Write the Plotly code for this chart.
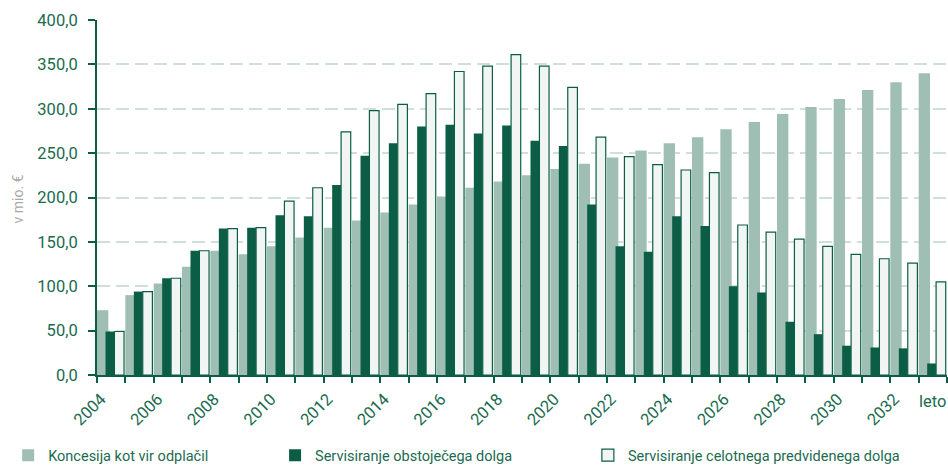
import plotly.graph_objects as go

years = list(range(2004, 2034))
koncesija = [73, 90, 103, 122, 140, 136, 145, 155, 166, 174, 183, 192, 201, 211, 218, 225,
             232, 238, 245, 253, 261, 268, 277, 285, 294, 302, 311, 321, 330, 340]
obstojeci = [49, 94, 109, 140, 165, 166, 180, 179, 214, 247, 261, 280, 282, 272, 281, 264,
             258, 192, 145, 139, 179, 168, 100, 93, 60, 46, 33, 31, 30, 13]
celotni = [49, 94, 109, 140, 165, 166, 196, 211, 274, 298, 305, 317, 342, 348, 361, 348,
           324, 268, 246, 237, 231, 228, 169, 161, 153, 145, 136, 131, 126, 105]
series_names = ["Koncesija kot vir odplačil", "Servisiranje obstoječega dolga",
                "Servisiranje celotnega predvidenega dolga"]
tick_years = list(range(2004, 2035))
tick_labels = [str(y) if (y % 2 == 0 and y <= 2032) else "" for y in tick_years]
last_label = "leto"
y_title = "v mio. €"

GREEN = "#0b5e45"
TXT = "#1b6b50"
LIGHT = "#9fbfb5"
WHITE = "#f1f6f4"

fig = go.Figure()
fig.add_trace(go.Bar(x=years, y=koncesija, name=series_names[0], offset=0.0, width=0.40,
                     marker=dict(color=LIGHT, line=dict(width=0)), legend="legend"))
fig.add_trace(go.Bar(x=years, y=obstojeci, name=series_names[1], offset=0.30, width=0.31,
                     marker=dict(color=GREEN, line=dict(width=0)), legend="legend2"))
fig.add_trace(go.Bar(x=years, y=celotni, name=series_names[2], offset=0.615, width=0.34,
                     marker=dict(color=WHITE, line=dict(color=GREEN, width=1.2)), legend="legend3"))

legend_font = dict(family="Roboto, sans-serif", size=14.5, color=TXT)
common_leg = dict(orientation="h", yanchor="middle", xanchor="left", font=legend_font,
                  bgcolor="rgba(0,0,0,0)", borderwidth=0)

fig.update_layout(
    width=948, height=465,
    margin=dict(l=97, r=1, t=20, b=90, autoexpand=False),
    plot_bgcolor="white", paper_bgcolor="white",
    barmode="overlay",
    separators=",.",
    showlegend=True,
    legend=dict(x=-0.1045, y=-0.226, **common_leg),
    legend2=dict(x=0.2095, y=-0.226, **common_leg),
    legend3=dict(x=0.5775, y=-0.226, **common_leg),
    font=dict(family="Roboto, sans-serif", size=16.5, color=TXT),
)
fig.update_xaxes(range=[2004, 2034], tickmode="array", tickvals=tick_years, ticktext=tick_labels,
                 tickangle=-45, ticks="outside", ticklen=6, tickcolor=GREEN, tickwidth=1.5,
                 showline=True, linecolor=GREEN, linewidth=2, showgrid=False, zeroline=False,
                 automargin=False,
                 ticklabelshift=4, tickfont=dict(family="Roboto, sans-serif", size=16.5, color=TXT))
fig.update_yaxes(range=[0, 400], dtick=50, tickformat=".1f", ticks="outside", ticklen=7,
                 tickcolor=GREEN, tickwidth=1.5, showline=True, linecolor=GREEN, linewidth=2,
                 showgrid=True, gridcolor="#cfe0d9", gridwidth=1.5, griddash="13px,6px",
                 zeroline=False, automargin=False, ticklabelstandoff=7,
                 tickfont=dict(family="Roboto, sans-serif", size=16.5, color=TXT))
fig.add_annotation(text=last_label, xref="x", yref="paper", x=2033.5, y=0, yshift=-26,
                   showarrow=False, xanchor="center", yanchor="middle",
                   font=dict(family="Roboto, sans-serif", size=16.5, color=TXT))
fig.add_annotation(text=y_title, xref="paper", yref="paper", x=0, xshift=-80, y=0.5, yshift=-2,
                   textangle=-90, showarrow=False, xanchor="center", yanchor="middle",
                   font=dict(family="Roboto, sans-serif", size=14, color="#a9a9a9"))
fig.write_html("out.html", config={"displayModeBar": False},
               post_script="document.body.style.margin='0px';")
